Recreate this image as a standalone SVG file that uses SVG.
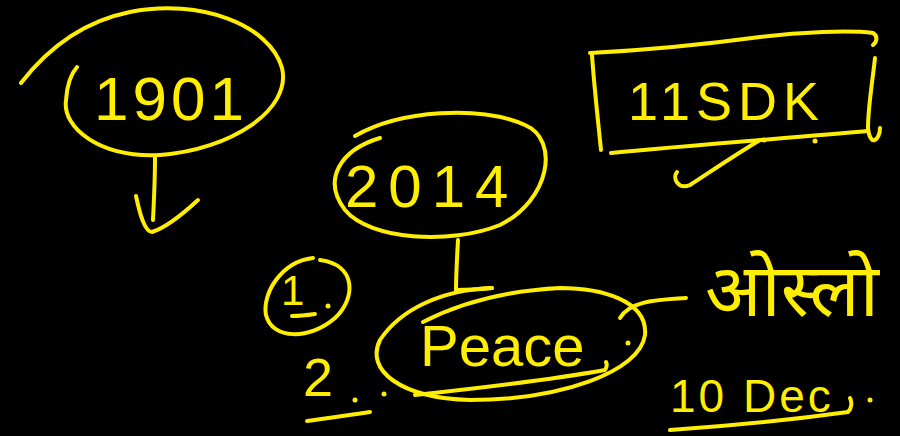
<svg xmlns="http://www.w3.org/2000/svg" width="900" height="436" viewBox="0 0 900 436">
<style>
.s{fill:none;stroke:#ffee00;stroke-width:4;stroke-linecap:round;stroke-linejoin:round}
.t{fill:#ffee00;font-family:"Liberation Sans","Noto Sans","Noto Sans CJK SC",sans-serif}
.d{fill:#ffee00}
</style>
<rect width="900" height="436" fill="#000"/>
<g id="n1901">
<path class="s" d="M21,83 C45,52 80,22 130,12 C200,-2 270,25 282,68 C292,110 230,150 160,155 C100,158 62,128 66,100 C67,85 70,75 77,67"/>
<text class="t" x="94" y="120" font-size="62" letter-spacing="4">1901</text>
</g>
<g id="n11sdk">
<path class="s" d="M590,53 C650,50 700,45 760,37 C800,32 850,30 873,33 C878,36 877,42 873,45"/>
<path class="s" d="M592,55 C594,85 598,120 601,150"/>
<path class="s" d="M611,153 C690,145 790,138 868,131"/>
<path class="s" d="M875,58 C872,85 868,108 868,128 C870,148 880,140 880,128"/>
<text class="t" x="628" y="120" font-size="54" letter-spacing="6">11SDK</text>
</g>
<g id="n2014">
<path class="s" d="M355,136 C400,110 480,105 525,125 C560,140 550,200 500,225 C450,245 370,240 345,210 C322,180 340,150 380,138"/>
<text class="t" x="345" y="207" font-size="60" letter-spacing="10">2014</text>
</g>
<g id="npeace">
<path class="s" d="M492,288 C440,290 400,310 380,340 C365,370 400,398 470,400 C560,400 640,372 645,335 C648,300 600,288 560,288 C520,290 470,298 423,322"/>
<path class="s" d="M415,395 C480,388 550,380 605,370 C607,367 607,364 606,362"/>
<path class="s" d="M620,318 C630,300 660,300 686,298"/>
<text class="t" x="420" y="366" font-size="58">Peace</text>
<circle class="d" cx="628" cy="343" r="2.5"/>
</g>
<g id="n1">
<path class="s" d="M313,258 C280,262 262,295 266,315 C272,340 310,340 335,318 C355,300 358,265 320,260"/>
<text class="t" x="281" y="305" font-size="42">1</text>
<path class="s" d="M292,316 C300,316 308,315 315,314"/>
<circle class="d" cx="328" cy="306" r="2.5"/>
</g>
<g id="n2">
<text class="t" x="303" y="396" font-size="54">2</text>
<circle class="d" cx="355" cy="400" r="2.5"/>
<circle class="d" cx="384" cy="394" r="2.5"/>
<path class="s" d="M307,421 C330,418 350,415 370,412"/>
</g>
<g id="noslo">
<text class="t" x="705" y="316" font-size="74">ओस्लो</text>
</g>
<g id="ndec">
<text class="t" x="670" y="412" font-size="46" letter-spacing="3">10 Dec</text>
<path class="s" d="M670,430 C730,426 790,420 848,412 C852,408 852,402 850,398"/>
<circle class="d" cx="870" cy="400" r="2.5"/>
</g>
<g id="connectors">
<path class="s" d="M155,158 C155,180 154,200 153,220"/>
<path class="s" d="M136,196 C140,215 145,232 152,232 C165,228 185,212 198,200"/>
<path class="s" d="M677,172 C672,178 678,190 690,185 C710,172 735,155 760,140"/>
<circle class="d" cx="764" cy="140" r="2.5"/>
<circle class="d" cx="815" cy="141" r="2.5"/>
<path class="s" d="M458,240 C457,258 456,275 456,290 C470,290 482,289 492,288"/>
</g>
</svg>
